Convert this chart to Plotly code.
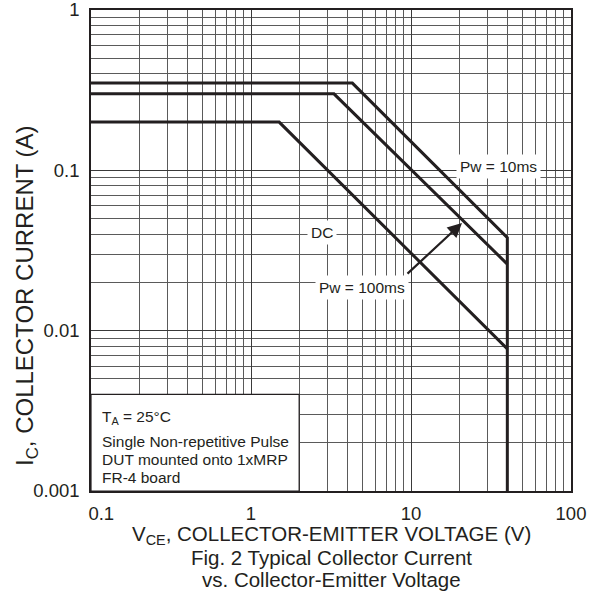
import numpy as np
import plotly.graph_objects as go

# ---- data ----
v_10ms = [0.1, 4.3, 40, 40]
i_10ms = [0.35, 0.35, 0.038, 0.001]
v_100ms = [0.1, 3.3, 40]
i_100ms = [0.3, 0.3, 0.026]
v_dc = [0.1, 1.5, 40]
i_dc = [0.2, 0.2, 0.0077]

x_ticks = [0.1, 1, 10, 100]
x_tick_labels = ["\u00a0\u00a0\u00a0\u00a00.1", "1", "10", "100"]
y_ticks = [0.001, 0.01, 0.1, 1]
y_tick_labels = ["0.001", "0.01", "0.1", "1"]

FONT = "Arial, 'Liberation Sans', sans-serif"
LINE = "#231f20"

# plot area in pixels
L, R, T, B = 91, 571, 10, 491
W, H = 597, 592
def px(x):
    return (x - L) / (R - L)
def py(y):
    return (B - y) / (B - T)

def minor_values(lo_exp, hi_exp):
    vals = []
    for e in range(lo_exp, hi_exp):
        for d in range(2, 10):
            vals.append(d * 10.0 ** e)
    return vals

fig = go.Figure()
for xs, ys in [(v_10ms, i_10ms), (v_100ms, i_100ms), (v_dc, i_dc)]:
    fig.add_trace(go.Scatter(x=xs, y=ys, mode="lines",
                             line=dict(color=LINE, width=3), showlegend=False,
                             hoverinfo="skip"))

def axis_common():
    return dict(type="log", showgrid=True, gridcolor="#3a3a3a", gridwidth=1,
                showline=True, linecolor="#231f20", linewidth=1.5, mirror=True,
                ticks="", zeroline=False, automargin=False, ticklabeloverflow="allow",
                tickfont=dict(family=FONT, size=18.5, color="#231f20"))

fig.update_layout(
    width=W, height=H,
    margin=dict(l=L, r=W - R, t=T, b=H - B, autoexpand=False),
    paper_bgcolor="white", plot_bgcolor="white",
    showlegend=False,
    xaxis=dict(range=[-1, 2], tickmode="array", tickvals=x_ticks, ticktext=x_tick_labels,
               ticklabelstandoff=5,
               minor=dict(tickmode="array", tickvals=minor_values(-1, 2), showgrid=True,
                          gridcolor="#5a5a5a", gridwidth=1, ticks=""),
               **axis_common()),
    yaxis=dict(range=[-3, 0], tickmode="array", tickvals=y_ticks, ticktext=y_tick_labels,
               ticklabelstandoff=6,
               minor=dict(tickmode="array", tickvals=minor_values(-3, 0), showgrid=True,
                          gridcolor="#5a5a5a", gridwidth=1, ticks=""),
               **axis_common()),
)

# note box in lower-left (0.1..2 V, 0.001..0.004 A)
dec_x = (R - L) / 3.0
dec_y = (B - T) / 3.0
fig.add_shape(type="rect", xref="paper", yref="paper",
              x0=0, x1=px(L + dec_x * np.log10(20)), y0=0,
              y1=py(B - dec_y * np.log10(4)),
              fillcolor="white", line=dict(color="#231f20", width=1.2), layer="above")

ann_font = dict(family=FONT, size=15.5, color="#231f20")
notes = [("T<sub>A</sub> = 25°C", 417), ("Single Non-repetitive Pulse", 441),
         ("DUT mounted onto 1xMRP", 459.5), ("FR-4 board", 477.5)]
for txt, y in notes:
    fig.add_annotation(text=txt, xref="paper", yref="paper", x=px(100), y=py(y),
                       xanchor="left", yanchor="middle", showarrow=False, font=ann_font)

# curve labels
for txt, x, y in [("Pw = 10ms", 498, 167), ("DC", 321.5, 232), ("Pw = 100ms", 362, 287)]:
    fig.add_annotation(text=txt, xref="paper", yref="paper", x=px(x), y=py(y),
                       xanchor="center", yanchor="middle", showarrow=False,
                       font=ann_font, bgcolor="white", borderpad=3)

# arrow from "Pw = 100ms" label to its curve
fig.add_annotation(text="", xref="paper", yref="paper", x=px(462), y=py(223),
                   axref="pixel", ayref="pixel", ax=-56, ay=52,
                   showarrow=True, arrowhead=2, arrowsize=1.3, arrowwidth=2.2,
                   arrowcolor=LINE)

# axis titles and caption
title_font = dict(family=FONT, size=20.5, color="#231f20")
fig.add_annotation(text="V<sub>CE</sub>, COLLECTOR-EMITTER VOLTAGE (V)",
                   xref="paper", yref="paper", x=0.5, y=py(535),
                   xanchor="center", yanchor="middle", showarrow=False, font=title_font)
fig.add_annotation(text="Fig. 2 Typical Collector Current",
                   xref="paper", yref="paper", x=0.5, y=py(557),
                   xanchor="center", yanchor="middle", showarrow=False, font=title_font)
fig.add_annotation(text="vs. Collector-Emitter Voltage",
                   xref="paper", yref="paper", x=0.5, y=py(579),
                   xanchor="center", yanchor="middle", showarrow=False, font=title_font)
fig.add_annotation(text="I<sub>C</sub>, COLLECTOR CURRENT (A)",
                   xref="paper", yref="paper", x=px(27), y=py(296), textangle=-90,
                   xanchor="center", yanchor="middle", showarrow=False,
                   font=dict(family=FONT, size=24, color="#231f20"))

fig.write_html("out.html", config={"displayModeBar": False},
               post_script="document.body.style.margin='0';")
